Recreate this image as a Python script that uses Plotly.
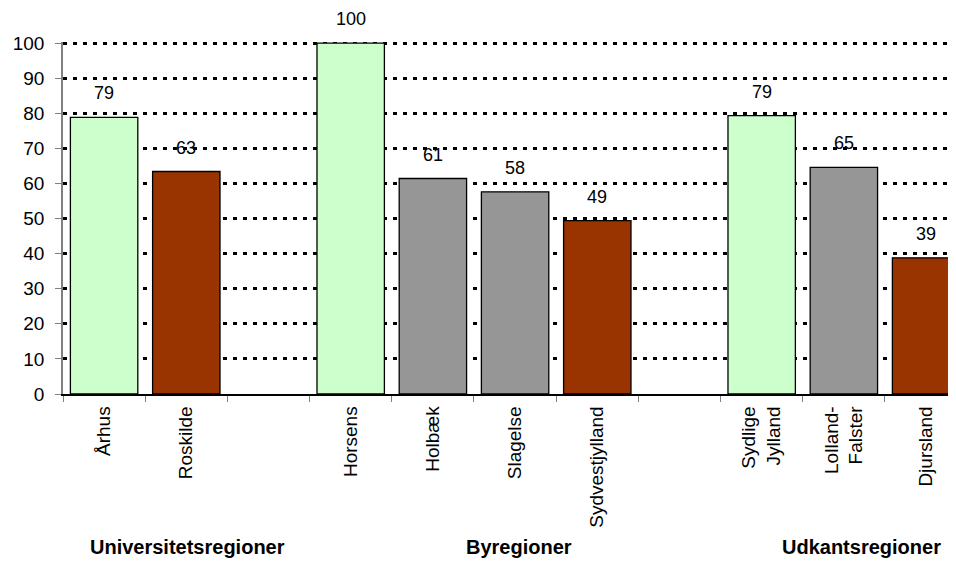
import plotly.graph_objects as go

categories = ["Århus", "Roskilde", " ", "Horsens", "Holbæk", "Slagelse",
              "Sydvestjylland", "  ", "Sydlige<br>Jylland", "Lolland-<br>Falster", "Djursland"]
values = [78.8, 63.4, None, 100.0, 61.4, 57.6, 49.4, None, 79.3, 64.6, 38.8]
bar_colors = ["#CCFFCC", "#993300", "#FFFFFF", "#CCFFCC", "#969696", "#969696",
              "#993300", "#FFFFFF", "#CCFFCC", "#969696", "#993300"]
group_labels = ["Universitetsregioner", "Byregioner", "Udkantsregioner"]
group_pos = [1.01, 5.05, 9.22]
y_ticks = list(range(0, 101, 10))

FONT = "Arial, 'Liberation Sans', sans-serif"

fig = go.Figure()
fig.add_trace(go.Bar(
    x=categories, y=values,
    marker=dict(color=bar_colors, line=dict(color="black", width=1.3)),
    width=0.82, showlegend=False, hoverinfo="skip",
))

annotations = []
for c, v in zip(categories, values):
    if v is None:
        continue
    annotations.append(dict(x=c, y=v, xref="x", yref="y", text=f"{v:.0f}",
                            showarrow=False, yanchor="middle", yshift=24,
                            font=dict(family=FONT, size=18, color="black")))
for g, p in zip(group_labels, group_pos):
    annotations.append(dict(x=p, y=-0.435, xref="x", yref="paper", text=f"<b>{g}</b>",
                            showarrow=False, yanchor="middle", xanchor="center",
                            font=dict(family=FONT, size=20, color="black")))

# page body has an 8px margin, so the figure is shrunk by 8px to fit the window
fig.update_layout(
    width=948, height=553,
    margin=dict(l=55, r=0, t=34, b=167),
    paper_bgcolor="white", plot_bgcolor="white",
    font=dict(family=FONT, size=18, color="black"),
    annotations=annotations,
    xaxis=dict(
        type="category", categoryorder="array", categoryarray=categories,
        range=[-0.5, 10.364],
        tickangle=-90, tickson="boundaries", ticks="outside", ticklen=6,
        tickcolor="#808080", tickwidth=1.3,
        showline=True, linecolor="black", linewidth=1.5,
        showgrid=False, tickfont=dict(family=FONT, size=19, color="black"),
        ticklabelstandoff=3,
        fixedrange=True,
    ),
    yaxis=dict(
        range=[0, 100.3], tickvals=y_ticks, ticks="outside", ticklen=6,
        tickcolor="#808080", tickwidth=1.3,
        showline=True, linecolor="#808080", linewidth=1.5,
        showgrid=True, gridcolor="black", gridwidth=2.5, griddash="4px,6px",
        zeroline=False, tickfont=dict(family=FONT, size=19, color="black"),
        ticklabelstandoff=7,
        fixedrange=True,
    ),
)

fig.write_html("out.html")
